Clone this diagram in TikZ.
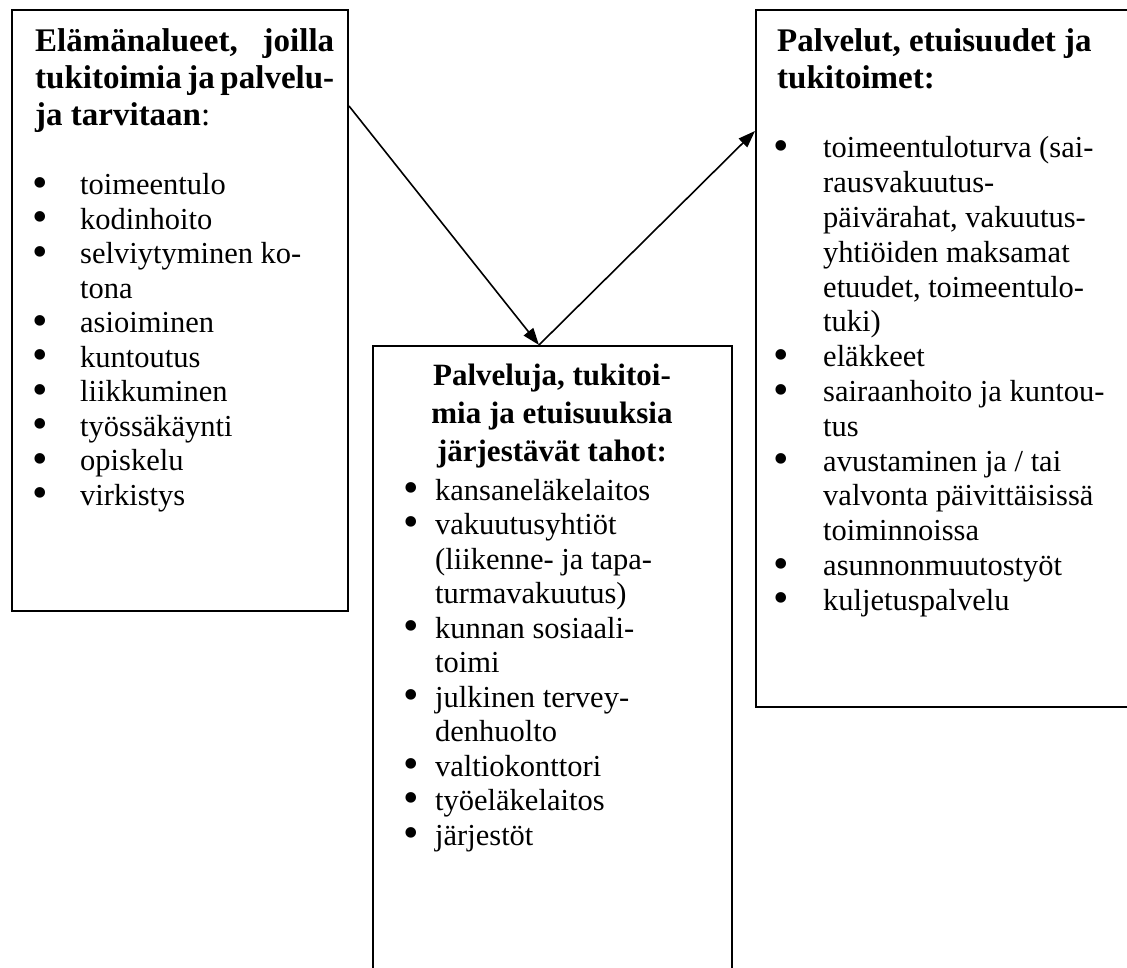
\documentclass[tikz,border=0pt]{standalone}
\usepackage{fontspec}
\setmainfont{Liberation Serif}
\usetikzlibrary{arrows.meta,calc}

% line helpers for the text columns
\newlength\itemind
\newcommand\hd[1]{\hbox{#1}}
\newcommand\hdj[2]{\hbox to #1{#2}}
\newcommand\hdc[2]{\hbox to #1{\hss#2\hss}}
\newcommand\bigbullet{\smash{\raisebox{-0.08em}{\scalebox{1.45}{\textbullet}}}}
\newcommand\bi[1]{\hbox{\makebox[\itemind][l]{\bigbullet}#1}}
\newcommand\ci[1]{\hbox{\hspace*{\itemind}#1}}
\newcommand\headfont{\fontsize{33}{36.8}\selectfont\bfseries\lineskiplimit=-100pt}
\newcommand\midheadfont{\fontsize{31}{38.2}\selectfont\bfseries\lineskiplimit=-100pt}
\newcommand\bodyfont{\fontsize{30.5}{34.5}\selectfont\lineskiplimit=-100pt}

\tikzset{
  box/.style={draw, line width=2pt, inner sep=0pt, anchor=north west},
  txt/.style={anchor=base west, inner sep=0pt},
  txtc/.style={anchor=base, inner sep=0pt},
  arr/.style={line width=1.6pt, -{Triangle[length=17pt,width=12pt]}},
}

\begin{document}
\begin{tikzpicture}[x=1pt,y=-1pt]
\useasboundingbox (0,0) rectangle (1127,968);
\clip (0,0) rectangle (1127,968);

% the three boxes
\node[box, minimum width=336pt, minimum height=601pt] (boxA) at (11,9) {};
\node[box, minimum width=359pt, minimum height=640pt] (boxB) at (372,345) {};
\node[box, minimum width=390pt, minimum height=697pt] (boxC) at (755,9) {};

% left box
\node[txt] (headA) at (35,52) {\parbox[t]{299pt}{\headfont
  \hdj{299pt}{Elämänalueet, joilla}
  \hdj{299pt}{tukitoimia ja palvelu-}
  \hd{ja tarvitaan\mdseries:}}};
\node[txt] (listA) at (32,195) {\parbox[t]{310pt}{\bodyfont\setlength\itemind{48pt}
  \bi{toimeentulo}
  \bi{kodinhoito}
  \bi{selviytyminen ko-}
  \ci{tona}
  \bi{asioiminen}
  \bi{kuntoutus}
  \bi{liikkuminen}
  \bi{työssäkäynti}
  \bi{opiskelu}
  \bi{virkistys}}};

% middle box
\node[txtc] (headB) at (552,385) {\parbox[t]{320pt}{\midheadfont
  \hdc{320pt}{Palveluja, tukitoi-}
  \hdc{320pt}{mia ja etuisuuksia}
  \hdc{320pt}{järjestävät tahot:}}};
\node[txt] (listB) at (403,500) {\parbox[t]{320pt}{\bodyfont\setlength\itemind{32pt}
  \bi{kansaneläkelaitos}
  \bi{vakuutusyhtiöt}
  \ci{(liikenne- ja tapa-}
  \ci{turmavakuutus)}
  \bi{kunnan sosiaali-}
  \ci{toimi}
  \bi{julkinen tervey-}
  \ci{denhuolto}
  \bi{valtiokonttori}
  \bi{työeläkelaitos}
  \bi{järjestöt}}};

% right box
\node[txt] (headC) at (777,52) {\parbox[t]{340pt}{\headfont
  \hd{Palvelut, etuisuudet ja}
  \hd{tukitoimet:}}};
\node[txt] (listC) at (773,158) {\parbox[t]{340pt}{\bodyfont\baselineskip=34.8pt\setlength\itemind{50pt}
  \bi{toimeentuloturva (sai-}
  \ci{rausvakuutus-}
  \ci{päivärahat, vakuutus-}
  \ci{yhtiöiden maksamat}
  \ci{etuudet, toimeentulo-}
  \ci{tuki)}
  \bi{eläkkeet}
  \bi{sairaanhoito ja kuntou-}
  \ci{tus}
  \bi{avustaminen ja / tai}
  \ci{valvonta päivittäisissä}
  \ci{toiminnoissa}
  \bi{asunnonmuutostyöt}
  \bi{kuljetuspalvelu}}};

% connectors
\coordinate (outA) at ($(boxA.north east)+(0,97)$);
\coordinate (inB) at ($(boxB.north west)+(167,0)$);
\coordinate (inC) at ($(boxC.north west)+(0,122)$);
\draw[arr] (outA) -- (inB);
\draw[arr] (inB) -- (inC);
\end{tikzpicture}
\end{document}
